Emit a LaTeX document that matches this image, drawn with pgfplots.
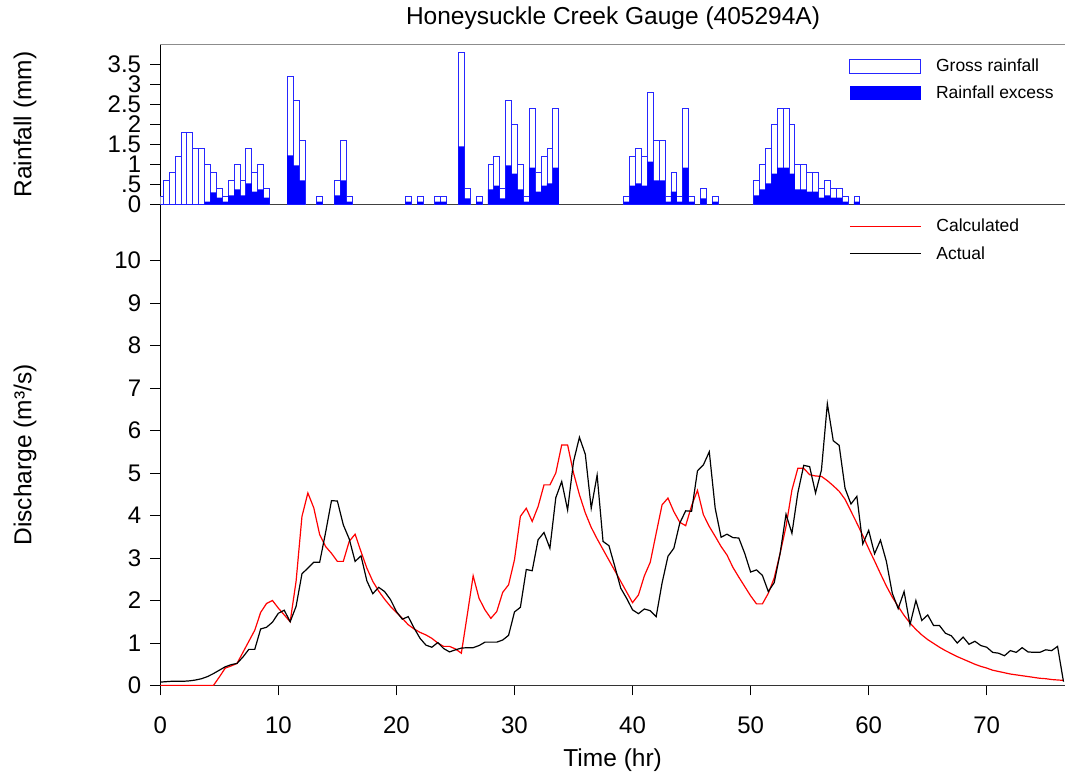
\documentclass[border=0pt]{standalone}
\usepackage{pgfplots}
\pgfplotsset{compat=1.18}
\usepackage{pgfplotstable}
\usepackage{fontspec}
\setmainfont{Liberation Sans}

\pgfplotstableread{
t gross excess
0 0.2 0
0.5 0.6 0
1 0.8 0
1.5 1.2 0
2 1.8 0
2.5 1.8 0
3 1.4 0
3.5 1.4 0
4 1.0 0.07
4.5 0.8 0.3
5 0.4 0.17
5.5 0.2 0.07
6 0.6 0.23
6.5 1.0 0.38
7 0.6 0.23
7.5 1.4 0.53
8 0.8 0.32
8.5 1.0 0.38
9 0.4 0.17
11 3.2 1.23
11.5 2.6 0.98
12 1.6 0.6
13.5 0.2 0.07
15 0.6 0.23
15.5 1.6 0.6
16 0.2 0.07
21 0.2 0.07
22 0.2 0.07
23.5 0.2 0.07
24 0.2 0.07
25.5 3.8 1.45
26 0.4 0.15
27 0.2 0.07
28 1.0 0.38
28.5 1.2 0.47
29 0.4 0.15
29.5 2.6 0.98
30 2.0 0.77
30.5 1.0 0.38
31 0.2 0.07
31.5 2.4 0.92
32 0.8 0.32
32.5 1.2 0.47
33 1.4 0.53
33.5 2.4 0.92
39.5 0.2 0.07
40 1.2 0.47
40.5 1.4 0.53
41 1.2 0.47
41.5 2.8 1.07
42 1.6 0.6
42.5 1.6 0.6
43 0.2 0.07
43.5 0.8 0.32
44 0.2 0.07
44.5 2.4 0.92
45 0.2 0.07
46 0.4 0.15
47 0.2 0.07
50.5 0.6 0.23
51 1.0 0.38
51.5 1.4 0.53
52 2.0 0.77
52.5 2.4 0.92
53 2.4 0.92
53.5 2.0 0.77
54 1.0 0.38
54.5 1.0 0.38
55 0.8 0.32
55.5 0.8 0.32
56 0.4 0.17
56.5 0.6 0.23
57 0.4 0.17
57.5 0.4 0.17
58 0.2 0.07
59 0.2 0.07
}\rain

\begin{document}
\begin{tikzpicture}[x=1pt,y=1pt]
\path[use as bounding box] (0,0) rectangle (1065,778);
\node[font=\fontsize{24.5}{28}\selectfont] at (613,759.5) {Honeysuckle Creek Gauge (405294A)};

% ---------- Rainfall panel ----------
\begin{axis}[
  at={(160.3pt,573.5pt)}, anchor=south west,
  scale only axis, width=904.7pt, height=160pt,
  xmin=0, xmax=76.63, ymin=0, ymax=4,
  axis x line*=bottom, axis y line*=left,
  x axis line style={draw=black!75, line width=1.2pt},
  y axis line style={draw=black, line width=1pt},
  xtick=\empty,
  ytick={0,0.5,1,1.5,2,2.5,3,3.5},
  yticklabels={0,.5,1,1.5,2,2.5,3,3.5},
  tick align=outside, major tick length=10pt,
  tick style={black, line width=0.8pt},
  yticklabel style={font=\fontsize{24}{24}\selectfont, inner sep=0pt, xshift=-9pt},
  every axis y label/.style={at={(axis description cs:-0.1496,0.5)}, rotate=90, anchor=center,
     font=\fontsize{24.5}{28}\selectfont},
  ylabel={Rainfall (mm)},
  ybar, bar width=0.5, bar shift=0pt,
  legend style={at={(axis description cs:0.7613,0.924)}, anchor=north west, draw=none, fill=none,
     inner sep=0pt, font=\fontsize{17.5}{20}\selectfont, row sep=9pt,
     /tikz/every odd column/.append style={column sep=13pt}},
  legend cell align=left,
  after end axis/.code={\draw[black!45, line width=1.2pt] (rel axis cs:0,1) -- (rel axis cs:1,1);},
]
\addplot[draw=blue!85!white, fill=white, line width=0.8pt,
  legend image code/.code={\draw[draw=blue!85!white, fill=white, line width=0.8pt] (0pt,-7pt) rectangle (71pt,7pt);}]
  table[x=t, y=gross] {\rain};
\addlegendentry{Gross rainfall}
\addplot[draw=none, fill=blue,
  legend image code/.code={\fill[blue] (0pt,-7pt) rectangle (71pt,7pt);}]
  table[x=t, y=excess] {\rain};
\addlegendentry{Rainfall excess}
\end{axis}

% ---------- Discharge panel ----------
\begin{axis}[
  at={(160.3pt,92.5pt)}, anchor=south west,
  scale only axis, width=904.7pt, height=480.5pt,
  xmin=0, xmax=76.63, ymin=0, ymax=11.306,
  axis x line*=bottom, axis y line*=left,
  x axis line style={draw=black!80, line width=1.2pt},
  y axis line style={draw=black, line width=1pt},
  xtick={0,10,20,30,40,50,60,70},
  ytick={0,1,2,3,4,5,6,7,8,9,10},
  tick align=outside, major tick length=10pt,
  tick style={black, line width=0.8pt},
  /pgf/number format/assume math mode=true,
  ticklabel style={font=\fontsize{24}{24}\selectfont},
  yticklabel style={inner sep=0pt, xshift=-9pt},
  xticklabel style={inner sep=0pt, yshift=-21pt},
  every axis y label/.style={at={(axis description cs:-0.1496,0.48)}, rotate=90, anchor=center,
     font=\fontsize{24.5}{28}\selectfont},
  ylabel={Discharge (m³/s)},
  every axis x label/.style={at={(axis description cs:0.5,0)}, anchor=center, yshift=-74.5pt,
     font=\fontsize{24.5}{28}\selectfont},
  xlabel={Time (hr)},
  legend style={at={(axis description cs:0.7613,0.975)}, anchor=north west, draw=none, fill=none,
     inner sep=0pt, font=\fontsize{17.5}{20}\selectfont, row sep=9pt,
     /tikz/every odd column/.append style={column sep=13pt}},
  legend cell align=left,
]
\addplot[red, line width=1.2pt,
  legend image code/.code={\draw[red, line width=1.2pt] (0pt,0pt) -- (71pt,0pt);}] coordinates {
(0,0) (0.5,0) (1,0) (1.5,0) (2,0) (2.5,0) (3,0) (3.5,0) (4,0) (4.5,0)
(5,0.2) (5.5,0.41) (6,0.46) (6.5,0.52) (7,0.78) (7.5,1.04) (8,1.3) (8.5,1.72) (9,1.93) (9.5,2.0)
(10,1.82) (10.5,1.66) (11,1.5) (11.5,2.45) (12,3.98) (12.5,4.53) (13,4.18) (13.5,3.55) (14,3.27) (14.5,3.11)
(15,2.92) (15.5,2.92) (16,3.39) (16.5,3.56) (17,3.15) (17.5,2.76) (18,2.45) (18.5,2.22) (19,2.03) (19.5,1.86)
(20,1.72) (20.5,1.58) (21,1.43) (21.5,1.33) (22,1.25) (22.5,1.19) (23,1.11) (23.5,1.0) (24,0.92) (24.5,0.92)
(25,0.86) (25.5,0.76) (26,1.66) (26.5,2.58) (27,2.05) (27.5,1.78) (28,1.58) (28.5,1.74) (29,2.19) (29.5,2.37)
(30,2.96) (30.5,3.98) (31,4.17) (31.5,3.86) (32,4.21) (32.5,4.72) (33,4.72) (33.5,5.0) (34,5.66) (34.5,5.66)
(35,5.0) (35.5,4.49) (36,4.06) (36.5,3.72) (37,3.45) (37.5,3.2) (38,2.95) (38.5,2.7) (39,2.45) (39.5,2.2)
(40,1.95) (40.5,2.13) (41,2.58) (41.5,2.9) (42,3.58) (42.5,4.25) (43,4.41) (43.5,4.09) (44,3.84) (44.5,3.76)
(45,4.23) (45.5,4.59) (46,4.02) (46.5,3.74) (47,3.51) (47.5,3.27) (48,3.07) (48.5,2.78) (49,2.55) (49.5,2.33)
(50,2.11) (50.5,1.92) (51,1.92) (51.5,2.17) (52,2.53) (52.5,3.11) (53,3.74) (53.5,4.6) (54,5.11) (54.5,5.11)
(55,4.96) (55.5,4.93) (56,4.92) (56.5,4.82) (57,4.7) (57.5,4.57) (58,4.38) (58.5,4.1) (59,3.82) (59.5,3.53)
(60,3.22) (60.5,2.93) (61,2.63) (61.5,2.34) (62,2.08) (62.5,1.86) (63,1.65) (63.5,1.47) (64,1.32) (64.5,1.19)
(65,1.08) (65.5,0.99) (66,0.9) (66.5,0.82) (67,0.75) (67.5,0.68) (68,0.62) (68.5,0.56) (69,0.5) (69.5,0.45)
(70,0.41) (70.5,0.36) (71,0.33) (71.5,0.3) (72,0.27) (72.5,0.25) (73,0.23) (73.5,0.21) (74,0.19) (74.5,0.17)
(75,0.16) (75.5,0.14) (76,0.13) (76.5,0.12)
};
\addlegendentry{Calculated}
\addplot[black, line width=1.2pt,
  legend image code/.code={\draw[black, line width=1.2pt] (0pt,0pt) -- (71pt,0pt);}] coordinates {
(0,0.08) (0.5,0.09) (1,0.1) (1.5,0.1) (2,0.1) (2.5,0.11) (3,0.13) (3.5,0.16) (4,0.21) (4.5,0.28)
(5,0.36) (5.5,0.44) (6,0.49) (6.5,0.52) (7,0.67) (7.5,0.85) (8,0.85) (8.5,1.33) (9,1.37) (9.5,1.49)
(10,1.70) (10.5,1.77) (11,1.50) (11.5,1.86) (12,2.63) (12.5,2.76) (13,2.9) (13.5,2.9) (14,3.6) (14.5,4.35)
(15,4.34) (15.5,3.78) (16,3.45) (16.5,2.92) (17,3.05) (17.5,2.46) (18,2.16) (18.5,2.31) (19,2.21) (19.5,2.02)
(20,1.74) (20.5,1.56) (21,1.62) (21.5,1.35) (22,1.11) (22.5,0.95) (23,0.9) (23.5,1.01) (24,0.87) (24.5,0.79)
(25,0.84) (25.5,0.88) (26,0.89) (26.5,0.89) (27,0.94) (27.5,1.02) (28,1.02) (28.5,1.02) (29,1.07) (29.5,1.18)
(30,1.73) (30.5,1.84) (31,2.73) (31.5,2.7) (32,3.43) (32.5,3.6) (33,3.23) (33.5,4.42) (34,4.8) (34.5,4.13)
(35,5.27) (35.5,5.84) (36,5.44) (36.5,4.17) (37,4.95) (37.5,3.39) (38,3.29) (38.5,2.8) (39,2.29) (39.5,2.05)
(40,1.78) (40.5,1.69) (41,1.8) (41.5,1.76) (42,1.62) (42.5,2.41) (43,3.04) (43.5,3.23) (44,3.82) (44.5,4.11)
(45,4.1) (45.5,5.05) (46,5.19) (46.5,5.5) (47,4.17) (47.5,3.49) (48,3.56) (48.5,3.48) (49,3.47) (49.5,3.11)
(50,2.67) (50.5,2.72) (51,2.59) (51.5,2.21) (52,2.42) (52.5,3.11) (53,4.03) (53.5,3.58) (54,4.53) (54.5,5.18)
(55,5.15) (55.5,4.53) (56,5.07) (56.5,6.63) (57,5.76) (57.5,5.65) (58,4.64) (58.5,4.27) (59,4.45) (59.5,3.33)
(60,3.65) (60.5,3.1) (61,3.42) (61.5,2.92) (62,2.17) (62.5,1.81) (63,2.21) (63.5,1.43) (64,2.0) (64.5,1.53)
(65,1.66) (65.5,1.41) (66,1.41) (66.5,1.23) (67,1.17) (67.5,1.0) (68,1.14) (68.5,0.97) (69,1.04) (69.5,0.94)
(70,0.9) (70.5,0.78) (71,0.76) (71.5,0.7) (72,0.82) (72.5,0.78) (73,0.89) (73.5,0.79) (74,0.78) (74.5,0.78)
(75,0.84) (75.5,0.82) (76,0.92) (76.5,0.09)
};
\addlegendentry{Actual}
\end{axis}
\end{tikzpicture}
\end{document}
